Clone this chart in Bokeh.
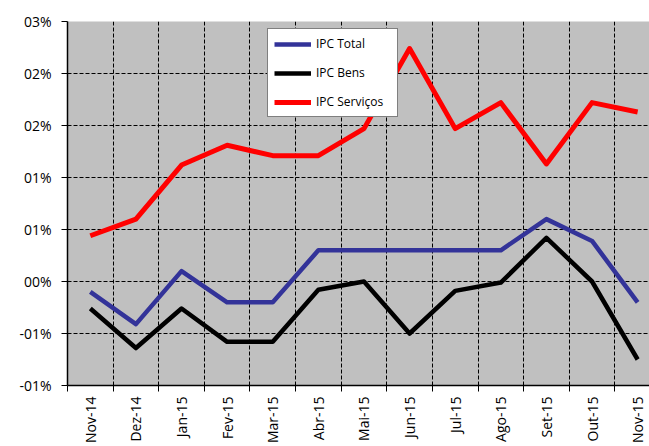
from bokeh.plotting import figure
from bokeh.models import FixedTicker, Legend, LegendItem, Range1d
from bokeh.embed import file_html
from bokeh.resources import INLINE

months = ["Nov-14", "Dez-14", "Jan-15", "Fev-15", "Mar-15", "Abr-15", "Mai-15",
          "Jun-15", "Jul-15", "Ago-15", "Set-15", "Out-15", "Nov-15"]
ipc_total = [-0.0010, -0.0041, 0.0010, -0.0020, -0.0020, 0.0030, 0.0030,
             0.0030, 0.0030, 0.0030, 0.0060, 0.0039, -0.0020]
ipc_bens = [-0.0026, -0.0064, -0.0026, -0.0058, -0.0058, -0.0008, 0.0000,
            -0.0050, -0.0009, -0.0001, 0.0042, 0.0000, -0.0075]
ipc_servicos = [0.0044, 0.0060, 0.0112, 0.0131, 0.0121, 0.0121, 0.0147,
                0.0224, 0.0147, 0.0172, 0.0113, 0.0172, 0.0163]
y_ticks = [-0.01, -0.005, 0.0, 0.005, 0.01, 0.015, 0.02, 0.025]
y_labels = ["-01%", "-01%", "00%", "01%", "01%", "02%", "02%", "03%"]

x = list(range(len(months)))
FONT = "Open Sans"

p = figure(width=649, height=446, output_backend="svg", toolbar_location=None,
           x_range=Range1d(-0.5, 12.26), y_range=Range1d(-0.01, 0.025),
           min_border_left=67, min_border_top=21, min_border_bottom=61, min_border_right=0)
p.background_fill_color = "#C0C0C0"
p.border_fill_color = "white"
p.outline_line_color = None

# x axis: labels at category centres, tick marks at boundaries
bounds = [i - 0.5 for i in range(len(months) + 1)]
p.xaxis.ticker = FixedTicker(ticks=x, minor_ticks=bounds)
p.xaxis.major_label_overrides = {i: m for i, m in enumerate(months)}
p.xaxis.major_label_orientation = 3.14159265 / 2
p.xaxis.major_tick_out = 0
p.xaxis.major_tick_in = 0
p.xaxis.minor_tick_out = 6
p.xaxis.minor_tick_in = 0
p.xaxis.minor_tick_line_color = "black"
p.xaxis.axis_line_color = "black"
p.xaxis.axis_line_width = 1.5
p.xaxis.major_label_text_font = FONT
p.xaxis.major_label_text_font_size = "14px"
p.xaxis.major_label_text_color = "black"
p.xaxis.major_label_standoff = 5

p.xgrid.ticker = FixedTicker(ticks=bounds)
p.xgrid.grid_line_color = "black"
p.xgrid.grid_line_dash = "4 2"
p.xgrid.grid_line_width = 1

# y axis
p.yaxis.ticker = FixedTicker(ticks=y_ticks)
p.yaxis.major_label_overrides = {t: l for t, l in zip(y_ticks, y_labels)}
p.yaxis.major_tick_out = 6
p.yaxis.major_tick_in = 0
p.yaxis.minor_tick_out = 0
p.yaxis.minor_tick_in = 0
p.yaxis.axis_line_color = "black"
p.yaxis.axis_line_width = 1.5
p.yaxis.major_label_text_font = FONT
p.yaxis.major_label_text_font_size = "14px"
p.yaxis.major_label_text_color = "black"
p.yaxis.major_label_standoff = 10

p.ygrid.grid_line_color = "black"
p.ygrid.grid_line_dash = "4 2"
p.ygrid.grid_line_width = 1

r_total = p.line(x, ipc_total, line_color="#333399", line_width=4.5, line_join="round")
r_bens = p.line(x, ipc_bens, line_color="black", line_width=4.5, line_join="round")
r_serv = p.line(x, ipc_servicos, line_color="#FF0000", line_width=5, line_join="round")

legend = Legend(items=[LegendItem(label="IPC Total", renderers=[r_total]),
                       LegendItem(label="IPC Bens", renderers=[r_bens]),
                       LegendItem(label="IPC Serviços", renderers=[r_serv])],
                location=(200, 268), orientation="vertical")
legend.padding = 6
legend.spacing = 12
legend.label_height = 14
legend.glyph_height = 14
legend.glyph_width = 37
legend.label_standoff = 5
legend.label_width = 75
legend.margin = 0
legend.label_text_font = FONT
legend.label_text_font_size = "12px"
legend.label_text_color = "black"
legend.border_line_color = "black"
legend.border_line_width = 1.5
legend.background_fill_color = "white"
legend.background_fill_alpha = 1
p.add_layout(legend)

open("out.html", "w").write(file_html(p, INLINE))
